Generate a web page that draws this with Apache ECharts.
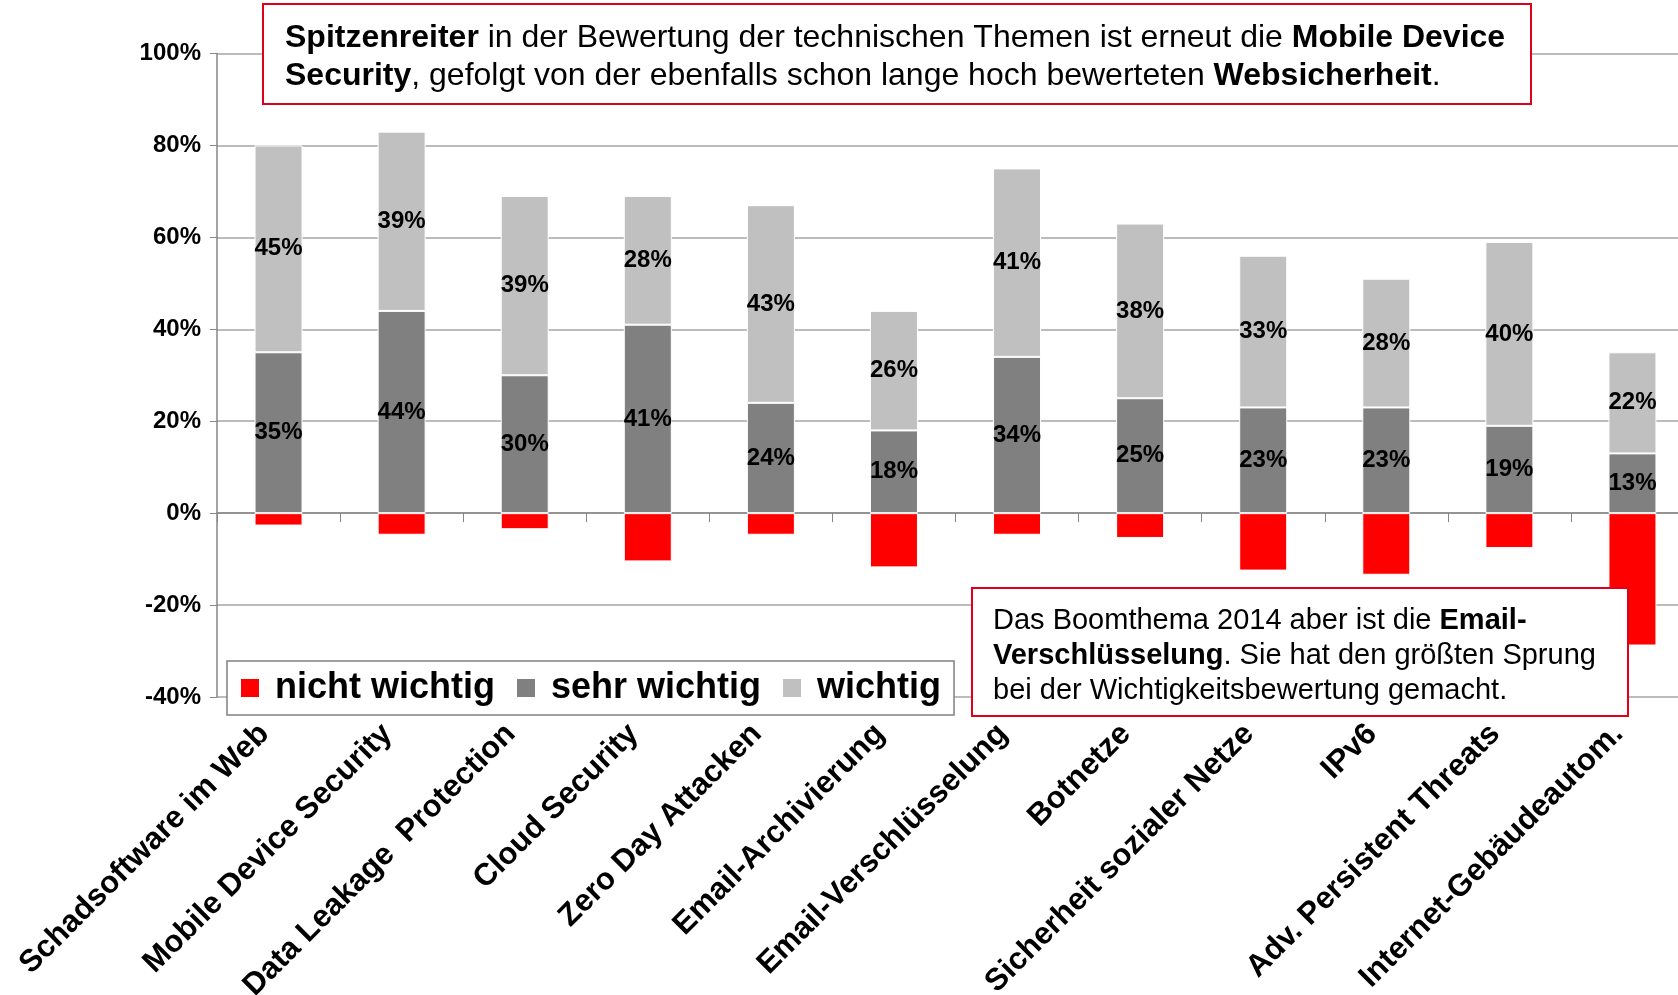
<!DOCTYPE html>
<html>
<head>
<meta charset="utf-8">
<script src="https://cdn.jsdelivr.net/npm/echarts@6/dist/echarts.min.js"></script>
<style>
  html, body { margin: 0; padding: 0; background: #fff; }
  #chart { width: 1678px; height: 995px; }
</style>
</head>
<body>
<div id="chart"></div>
<script>
const categories = [
  'Schadsoftware im Web', 'Mobile Device Security', 'Data Leakage  Protection',
  'Cloud Security', 'Zero Day Attacken', 'Email-Archivierung',
  'Email-Verschlüsselung', 'Botnetze', 'Sicherheit sozialer Netze',
  'IPv6', 'Adv. Persistent Threats', 'Internet-Gebäudeautom.'
]
const nichtWichtig = [-2.7, -4.7, -3.5, -10.5, -4.7, -11.8, -4.7, -5.4, -12.5, -13.4, -7.6, -28.8]
const sehrWichtig = [35, 44, 30, 41, 24, 18, 34, 25, 23, 23, 19, 13]
const wichtig = [45, 39, 39, 28, 43, 26, 41, 38, 33, 28, 40, 22]
const seriesNames = ['nicht wichtig', 'sehr wichtig', 'wichtig']
const yMin = -40
const yMax = 100
const yStep = 20

const FONT = "'Liberation Sans', Arial, sans-serif"

const chart = echarts.init(document.getElementById('chart'))

const barLabel = {
  show: true,
  position: 'inside',
  color: '#000',
  fontFamily: FONT,
  fontWeight: 'bold',
  fontSize: 24,
  formatter: p => p.value + '%'
}

chart.setOption({
  animation: false,
  grid: {
    left: 217,
    top: 53.5,
    width: 1477,
    bottom: 298,
    containLabel: false,
    outerBoundsMode: 'none'
  },
  legend: {
    data: seriesNames,
    left: 227,
    top: 661,
    orient: 'horizontal',
    itemWidth: 20,
    itemHeight: 20,
    itemGap: 20,
    icon: 'rect',
    padding: [9, 13, 9, 12],
    borderColor: '#808080',
    borderWidth: 1.5,
    backgroundColor: '#fff',
    formatter: name => ' ' + name,
    textStyle: {
      fontFamily: FONT,
      fontWeight: 'bold',
      fontSize: 36,
      color: '#000'
    }
  },
  xAxis: [
    {
      // zero line with ticks between categories
      type: 'category',
      data: categories,
      axisLine: { onZero: true, lineStyle: { color: '#868686', width: 1.5 } },
      axisTick: { show: true, interval: 0, length: 9, lineStyle: { color: '#868686' } },
      axisLabel: { show: false, interval: 0 },
      splitLine: { show: false }
    },
    {
      // category labels at the bottom
      type: 'category',
      data: categories,
      position: 'bottom',
      axisLine: { show: false, onZero: false },
      axisTick: { show: false },
      axisLabel: {
        rotate: 45,
        interval: 0,
        margin: 18,
        padding: [0, 20, 0, 0],
        color: '#000',
        fontFamily: FONT,
        fontWeight: 'bold',
        fontSize: 31
      }
    }
  ],
  yAxis: {
    type: 'value',
    min: yMin,
    max: yMax,
    interval: yStep,
    axisLine: { show: true, lineStyle: { color: '#868686', width: 1.5 } },
    axisTick: { show: true, length: 7, lineStyle: { color: '#868686' } },
    axisLabel: {
      margin: 16,
      color: '#000',
      fontFamily: FONT,
      fontWeight: 'bold',
      fontSize: 24,
      formatter: '{value}%'
    },
    splitLine: { lineStyle: { color: '#a6a6a6', width: 1.5 } }
  },
  series: [
    {
      name: seriesNames[0],
      type: 'bar',
      stack: 'a',
      barWidth: 48,
      itemStyle: { color: '#ff0000', borderColor: '#fff', borderWidth: 1 },
      data: nichtWichtig
    },
    {
      name: seriesNames[1],
      type: 'bar',
      stack: 'a',
      barWidth: 48,
      itemStyle: { color: '#808080', borderColor: '#fff', borderWidth: 1 },
      label: barLabel,
      data: sehrWichtig
    },
    {
      name: seriesNames[2],
      type: 'bar',
      stack: 'a',
      barWidth: 48,
      itemStyle: { color: '#c0c0c0', borderColor: '#fff', borderWidth: 1 },
      label: barLabel,
      data: wichtig
    }
  ],
  graphic: [
    {
      type: 'rect',
      z: 100,
      shape: { x: 263, y: 4, width: 1268, height: 100 },
      style: { fill: '#fff', stroke: '#e0001b', lineWidth: 2 }
    },
    {
      type: 'text',
      z: 101,
      x: 285,
      y: 19,
      style: {
        text: '{b|Spitzenreiter} in der Bewertung der technischen Themen ist erneut die {b|Mobile Device}\n{b|Security}, gefolgt von der ebenfalls schon lange hoch bewerteten {b|Websicherheit}.',
        fontFamily: FONT,
        fontSize: 32,
        lineHeight: 38,
        fill: '#000',
        rich: {
          b: { fontFamily: FONT, fontSize: 32, fontWeight: 'bold', lineHeight: 38, fill: '#000' }
        }
      }
    },
    {
      type: 'rect',
      z: 100,
      shape: { x: 972, y: 588, width: 656, height: 128 },
      style: { fill: '#fff', stroke: '#e0001b', lineWidth: 2 }
    },
    {
      type: 'text',
      z: 101,
      x: 993,
      y: 603,
      style: {
        text: 'Das Boomthema 2014 aber ist die {b|Email-}\n{b|Verschlüsselung}. Sie hat den größten Sprung\nbei der Wichtigkeitsbewertung gemacht.',
        fontFamily: FONT,
        fontSize: 29,
        lineHeight: 35,
        fill: '#000',
        rich: {
          b: { fontFamily: FONT, fontSize: 29, fontWeight: 'bold', lineHeight: 35, fill: '#000' }
        }
      }
    }
  ]
})
</script>
</body>
</html>
